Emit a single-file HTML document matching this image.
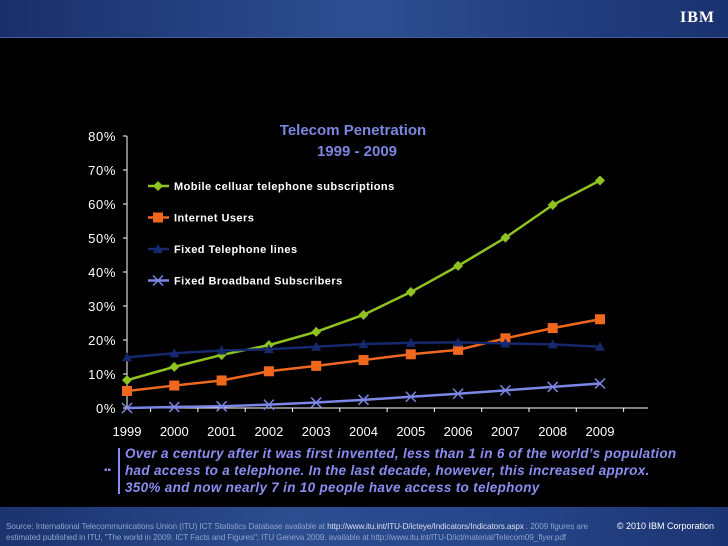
<!DOCTYPE html>
<html><head><meta charset="utf-8"><style>
body{margin:0;width:728px;height:546px;background:#000;overflow:hidden;position:relative;font-family:"Liberation Sans",sans-serif}
#hdr{position:absolute;left:0;top:0;width:728px;height:37px;background:linear-gradient(90deg,#1a2f6a,#2d4f92 50%,#233f80 75%,#1b3270);border-bottom:1px solid #41609a}
#ftr{position:absolute;left:0;top:507px;width:728px;height:39px;background:linear-gradient(90deg,#1b336e,#2c4d8f 40%,#26468a 70%,#1c3472)}
.src{position:absolute;left:6px;top:14px;font-size:8.2px;color:#8ea3cc;line-height:11px;width:610px;white-space:nowrap;letter-spacing:-0.1px}
.cp{position:absolute;right:14px;top:14px;font-size:9px;color:#fff}
#note{position:absolute;left:125px;top:445px;color:#8b8ef0;font-style:italic;font-weight:bold;font-size:13.5px;letter-spacing:0.3px;line-height:17px;white-space:nowrap}
#bar{position:absolute;left:118px;top:448px;width:2px;height:46px;background:#8b8ef0}
</style></head><body>
<div id="hdr">
<div style="position:absolute;right:13px;top:9px;font:bold 16px 'Liberation Serif',serif;color:#fff;letter-spacing:1px">IBM</div></div>
<svg id="chart" width="728" height="546" style="position:absolute;left:0;top:0"></svg>
<div id="bar"></div>
<div style="position:absolute;left:104px;top:466px;width:12px;height:10px;color:#8b8ef0;font-size:10px;line-height:10px">▪▪</div>
<div id="note">Over a century after it was first invented, less than 1 in 6 of the world’s population<br>had access to a telephone. In the last decade, however, this increased approx.<br>350% and now nearly 7 in 10 people have access to telephony</div>
<div id="ftr">
<div class="src">Source: International Telecommunications Union (ITU) ICT Statistics Database available at <span style="color:#dde">http://www.itu.int/ITU-D/icteye/Indicators/Indicators.aspx</span> . 2009 figures are<br>estimated published in ITU, "The world in 2009: ICT Facts and Figures"; ITU Geneva 2009. available at http://www.itu.int/ITU-D/ict/material/Telecom09_flyer.pdf</div>
<div class="cp">© 2010 IBM Corporation</div></div>
<script>
const years=["1999","2000","2001","2002","2003","2004","2005","2006","2007","2008","2009"];
const yTicks=[0,10,20,30,40,50,60,70,80];
const mobile=[8.2,12.1,15.6,18.5,22.4,27.4,34.1,41.8,50.1,59.7,66.9];
const internet=[5,6.6,8.1,10.8,12.4,14.1,15.8,17.1,20.5,23.5,26.1];
const fixedLines=[14.9,16.1,16.9,17.3,18,18.8,19.2,19.3,19,18.7,18];
const broadband=[0,0.3,0.5,1,1.6,2.4,3.3,4.2,5.2,6.2,7.2];
const seriesNames=["Mobile celluar telephone subscriptions","Internet Users","Fixed Telephone lines","Fixed Broadband Subscribers"];
const NS="http://www.w3.org/2000/svg",svg=document.getElementById('chart');
const X=i=>127+i*47.3, Y=v=>408-v*3.4;
function mk(t,a,p){const e=document.createElementNS(NS,t);for(const k in a)e.setAttribute(k,a[k]);(p||svg).appendChild(e);return e;}
let t=mk('text',{x:353,y:135,'text-anchor':'middle',fill:'#7b86de','font-size':15,'font-weight':'bold'});t.textContent='Telecom Penetration';


t=mk('text',{x:357,y:156,'text-anchor':'middle',fill:'#7b86de','font-size':15,'font-weight':'bold'});t.textContent='1999 - 2009';


let ax=mk('path',{d:`M127 136V408H648`,stroke:'#fff',fill:'none','stroke-width':1});


yTicks.forEach(v=>{mk('line',{x1:123,x2:127,y1:Y(v),y2:Y(v),stroke:'#fff'});
 const l=mk('text',{x:116,y:Y(v)+5,'text-anchor':'end',fill:'#fff','font-size':13,'letter-spacing':0.6});l.textContent=v+'%';
 
 });
years.forEach((y,i)=>{mk('line',{x1:X(i)+23.6,x2:X(i)+23.6,y1:408,y2:412,stroke:'#fff'});
 const l=mk('text',{x:X(i),y:436,'text-anchor':'middle',fill:'#fff','font-size':13});l.textContent=y;
 
 });
function marker(g,type,x,y,c){
 if(type==0)mk('path',{d:`M${x} ${y-5}L${x+5} ${y}L${x} ${y+5}L${x-5} ${y}Z`,fill:c},g);
 else if(type==1)mk('rect',{x:x-5,y:y-5,width:10,height:10,fill:c},g);
 else if(type==2)mk('path',{d:`M${x} ${y-5}L${x+5} ${y+4}L${x-5} ${y+4}Z`,fill:c},g);
 else mk('path',{d:`M${x-5} ${y-5}L${x+5} ${y+5}M${x+5} ${y-5}L${x-5} ${y+5}`,stroke:c,'stroke-width':1.5},g);}
const cols=['#8fc31f','#f0681e','#16296e','#7c86e4'];
const names=['series-mobile','series-internet','series-fixed-lines','series-broadband'];
[mobile,internet,fixedLines,broadband].forEach((d,s)=>{
 const g=mk('g',{});
 
 
 mk('polyline',{points:d.map((v,i)=>X(i)+','+Y(v)).join(' '),fill:'none',stroke:cols[s],'stroke-width':2.5},g);
 d.forEach((v,i)=>marker(g,s,X(i),Y(v),cols[s]));
 const ly=186+s*31.5;
 const lg=mk('g',{});
 
 
 mk('line',{x1:148,x2:169,y1:ly,y2:ly,stroke:cols[s],'stroke-width':2.5},lg);
 marker(lg,s,158,ly,cols[s]);
 const tx=mk('text',{x:174,y:ly+4,fill:'#fff','font-size':11,'font-weight':'bold','letter-spacing':0.45},lg);tx.textContent=seriesNames[s];
});
</script>
</body></html>
